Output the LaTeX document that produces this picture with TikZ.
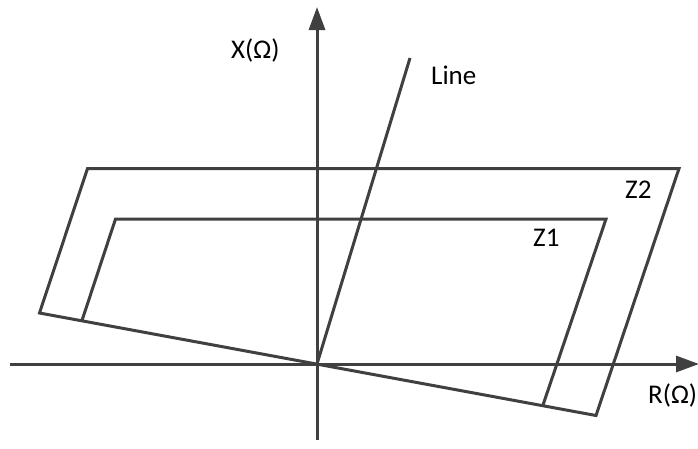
\documentclass[tikz,border=0pt]{standalone}
\usepackage{fontspec}
\setmainfont{Carlito}
\usetikzlibrary{arrows.meta}
\definecolor{ink}{HTML}{404040}
\tikzset{
  edge/.style={draw=ink, line width=3pt, line join=miter},
  axis/.style={draw=ink, line width=3pt, -{Triangle[length=23pt,width=16pt]}},
  lbl/.style={font=\fontsize{27}{32}\selectfont, text=black, inner sep=0pt, anchor=base west}
}
\begin{document}
\begin{tikzpicture}[x=1pt,y=-1pt]
\useasboundingbox (0,0) rectangle (698,448);
% axes
\coordinate (O) at (317,364);
\coordinate (xs) at (10,364);
\coordinate (xe) at (699,364);
\coordinate (ys) at (317,440);
\coordinate (ye) at (317,7);
\draw[axis] (xs) -- (xe);
\draw[axis] (ys) -- (ye);
% line
\coordinate (lt) at (410,58);
\draw[edge] (O) -- (lt);
% Z2
\coordinate (a2) at (39.5,313);
\coordinate (b2) at (87.5,168.5);
\coordinate (c2) at (679,168.5);
\coordinate (d2) at (596,415.5);
\draw[edge] (a2) -- (b2) -- (c2) -- (d2) -- cycle;
% Z1
\coordinate (a1) at (82,320.5);
\coordinate (b1) at (115.5,219);
\coordinate (c1) at (606,219);
\coordinate (d1) at (543,405);
\draw[edge] (a1) -- (b1) -- (c1) -- (d1);
% labels
\node[lbl] (lx) at (231,58) {X(Ω)};
\node[lbl] (lr) at (648,403) {R(Ω)};
\node[lbl] (ll) at (431,84) {Line};
\node[lbl] (lz2) at (625,198) {Z2};
\node[lbl] (lz1) at (533,246) {Z1};
\end{tikzpicture}
\end{document}
